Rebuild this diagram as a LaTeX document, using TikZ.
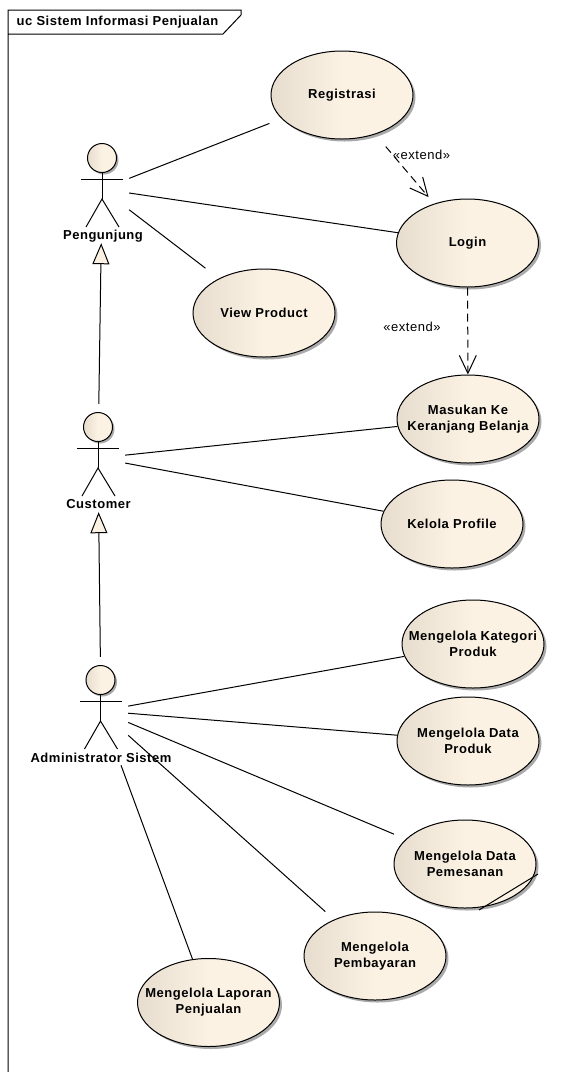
\documentclass[tikz,border=0pt]{standalone}
\usepackage{fontspec}
\setmainfont[LetterSpace=4]{Liberation Sans}
\definecolor{ucleft}{RGB}{230,221,207}
\definecolor{ucright}{RGB}{251,242,228}
\definecolor{ucshadow}{RGB}{170,170,170}
\usetikzlibrary{arrows.meta, positioning, shapes.geometric, shadows}
\tikzset{
  line/.style={line width=1pt, black},
  usecase/.style={ellipse, draw, line width=1pt, inner xsep=-30pt, inner ysep=-8pt, minimum width=142pt, minimum height=88pt,
    left color=ucleft, right color=ucright, middle color=ucright, align=center,
    font=\fontsize{13}{16}\selectfont\bfseries,
    drop shadow={shadow xshift=2.5pt, shadow yshift=-2.5pt, fill=ucshadow, opacity=1}},
  actorbox/.style={rectangle, inner sep=0pt, minimum width=54pt, minimum height=108pt},
  actorlabel/.style={font=\fontsize{13}{14}\selectfont\bfseries, inner sep=0pt},
  stereotype/.style={font=\fontsize{13}{14}\selectfont, inner sep=0pt},
  assoc/.style={line},
  general/.style={line, -{Triangle[open, length=21pt, width=17pt, fill=ucright]}},
  extendarrow/.style={line, dash pattern=on 8pt off 5pt, -{Straight Barb[length=18pt, width=17pt]}},
  actorman/.pic={
    \draw[line, left color=ucleft, right color=ucright, middle color=ucright,
      drop shadow={shadow xshift=2pt, shadow yshift=-2pt, fill=ucshadow, opacity=1}] (0,-31) circle (14.5pt);
    \draw[line] (0,-16.5) -- (0,10);
    \draw[line] (-21,-10) -- (21,-10);
    \draw[line] (-16,38) -- (0,10) -- (17,38);
  }
}
\begin{document}
\begin{tikzpicture}[x=1pt, y=-1pt]
  \useasboundingbox (0,0) rectangle (573,1072);

  % Frame
  \draw[line] (8,1072) -- (8,10) -- (241,10) -- (241,15) -- (223,34) -- (8,34);
  \node[font=\fontsize{13}{14}\selectfont\bfseries, inner sep=0pt] (frametitle) at (117.5,22.5) {uc Sistem Informasi Penjualan};

  % Actors
  \node[actorbox] (pengunjung) at (102,189) {};
  \pic at (102,189) {actorman};
  \node[actorlabel] (pengunjunglabel) at (103,236) {Pengunjung};

  \node[actorbox] (customer) at (98,458) {};
  \pic at (98,458) {actorman};
  \node[actorlabel] (customerlabel) at (98.5,504.5) {Customer};

  \node[actorbox] (admin) at (101,711) {};
  \pic at (100.5,711) {actorman};
  \node[actorlabel] (adminlabel) at (101,758) {Administrator Sistem};

  % Use cases
  \node[usecase] (registrasi) at (342,95) {Registrasi};
  \node[usecase] (login) at (467.5,243) {Login};
  \node[usecase] (viewproduct) at (264,313) {View Product};
  \node[usecase] (keranjang) at (468,419) {Masukan Ke\\Keranjang Belanja};
  \node[usecase] (profile) at (452,524) {Kelola Profile};
  \node[usecase] (kategori) at (473,644) {Mengelola Kategori\\Produk};
  \node[usecase] (dataproduk) at (468,741) {Mengelola Data\\Produk};
  \node[usecase] (pemesanan) at (465,864) {Mengelola Data\\Pemesanan};
  \node[usecase] (pembayaran) at (375,956) {Mengelola\\Pembayaran};
  \node[usecase] (laporan) at (208.5,1002.5) {Mengelola Laporan\\Penjualan};

  % Associations
  \draw[assoc, shorten >=13pt] (pengunjung) -- (registrasi);
  \draw[assoc] (pengunjung) -- (login);
  \draw[assoc, shorten >=17pt] (pengunjung) -- (viewproduct);
  \draw[assoc] (customer) -- (keranjang);
  \draw[assoc] (customer) -- (profile);
  \draw[assoc] (admin) -- (kategori);
  \draw[assoc] (admin) -- (dataproduk);
  \draw[assoc, shorten >=12.8pt] (admin) -- (pemesanan);
  \draw[assoc, shorten >=11.8pt] (admin) -- (pembayaran);
  \draw[assoc] (admin) -- (laporan);

  % Generalizations
  \draw[general] (customer) -- (pengunjung);
  \draw[general] (admin) -- (customer);

  % Extends
  \draw[extendarrow, shorten <=16pt, shorten >=8.6pt] (registrasi) -- (login);
  \node[stereotype] (extendone) at (421.5,155) {«extend»};
  \draw[extendarrow] (login) -- (keranjang);
  \node[stereotype] (extendtwo) at (412,327) {«extend»};

  % Stray line on Pemesanan
  \coordinate (straya) at (479,910);
  \coordinate (strayb) at (538,874);
  \draw[line] (straya) -- (strayb);
\end{tikzpicture}
\end{document}
